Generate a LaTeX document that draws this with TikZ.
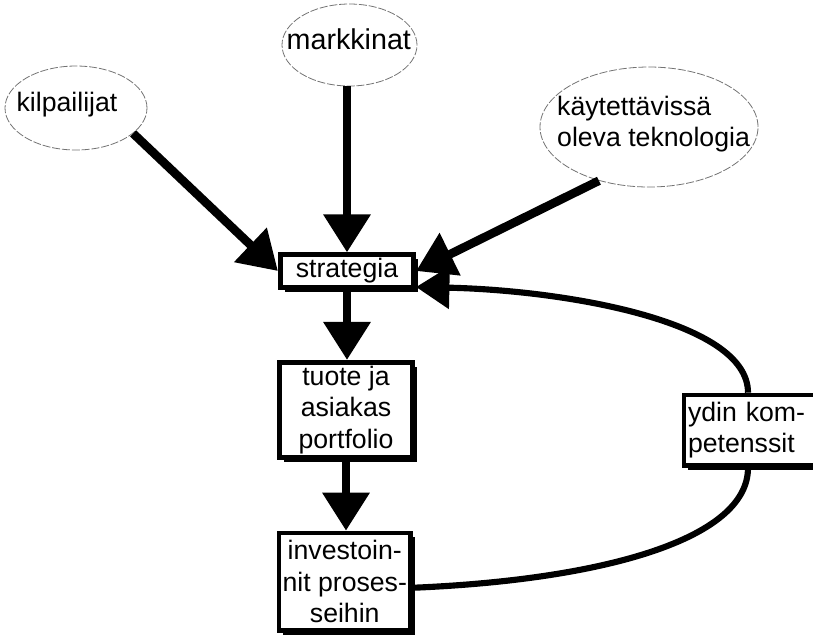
\documentclass[tikz,border=0pt]{standalone}
\usepackage{fontspec}
\setmainfont{Liberation Sans}
\usetikzlibrary{shapes.geometric,arrows.meta,shadows,backgrounds}

\begin{document}
\begin{tikzpicture}[x=0.75pt,y=-0.75pt,
  txt/.style={font=\fontsize{20}{23.5}\selectfont},
  cloud/.style={ellipse, draw=black!55, line width=0.6pt,
    dash pattern=on 6pt off 1.4pt, inner sep=0pt},
  box/.style={rectangle, draw=black, line width=3.5pt, fill=white,
    inner sep=0pt, txt,
    drop shadow={shadow xshift=3.2pt, shadow yshift=-3.2pt,
      fill=black, opacity=1}},
  flow/.style={line width=6.5pt, -{Triangle[length=28.5pt,width=34pt]}},
  loopline/.style={line width=4.6pt},
  looparrow/.style={loopline, -{Triangle[length=25pt,width=31pt]}}
]
\useasboundingbox (0,0) rectangle (813,637);

% influencing factors
\node[cloud, minimum width=106.5pt, minimum height=63pt,
  label={[txt, xshift=-6.75pt, yshift=2.25pt]center:kilpailijat}]
  (kilp) at (76,108) {};
\node[cloud, minimum width=101.25pt, minimum height=61.5pt,
  label={[font=\fontsize{21.5}{24}\selectfont, xshift=-0.5pt, yshift=4.3pt]center:markkinat}]
  (mark) at (349.5,45) {};
\node[cloud, minimum width=163.5pt, minimum height=90pt,
  label={[txt, align=left, xshift=3.4pt, yshift=2.25pt]center:{käytettävissä\\oleva teknologia}}]
  (tek) at (649,127) {};

% main chain and core competences
\node[box, minimum width=100.1pt, minimum height=24.4pt]
  (strat) at (347,271) {strategia};
\node[box, align=center, minimum width=99.4pt, minimum height=71.6pt]
  (tuote) at (346,410) {tuote ja\\asiakas\\portfolio};
\node[box, align=center, minimum width=98.6pt, minimum height=73.1pt]
  (inv) at (344.75,581.75) {investoin-\\nit proses-\\seihin};
\node[box, align=left, text width=103.5pt, inner xsep=3pt,
  minimum width=109.5pt, minimum height=52.9pt]
  (ydin) at (757,430.25) {ydin kom-\\petenssit};

% feedback loop through the core competences, beneath the boxes
\begin{scope}[on background layer]
\draw[loopline] ([yshift=-4.5pt]inv.east)
  .. controls (600,580) and (748,540) .. ([xshift=-6.75pt]ydin.south);
\end{scope}
\draw[looparrow] ([xshift=-6.75pt]ydin.north)
  .. controls (748,320) and (560,290) .. ([yshift=-12pt]strat.east);

% influences on the strategy
\draw[flow] (kilp.-24) -- (strat.west);
\draw[flow] (strat.north |- mark.south) -- (strat.north);
\draw[flow] (tek.227) -- (strat.east);

% strategy to portfolio to investments
\draw[flow] (strat.south) -- (strat.south |- tuote.north);
\draw[flow] (tuote.south) -- (tuote.south |- inv.north);

\end{tikzpicture}
\end{document}
